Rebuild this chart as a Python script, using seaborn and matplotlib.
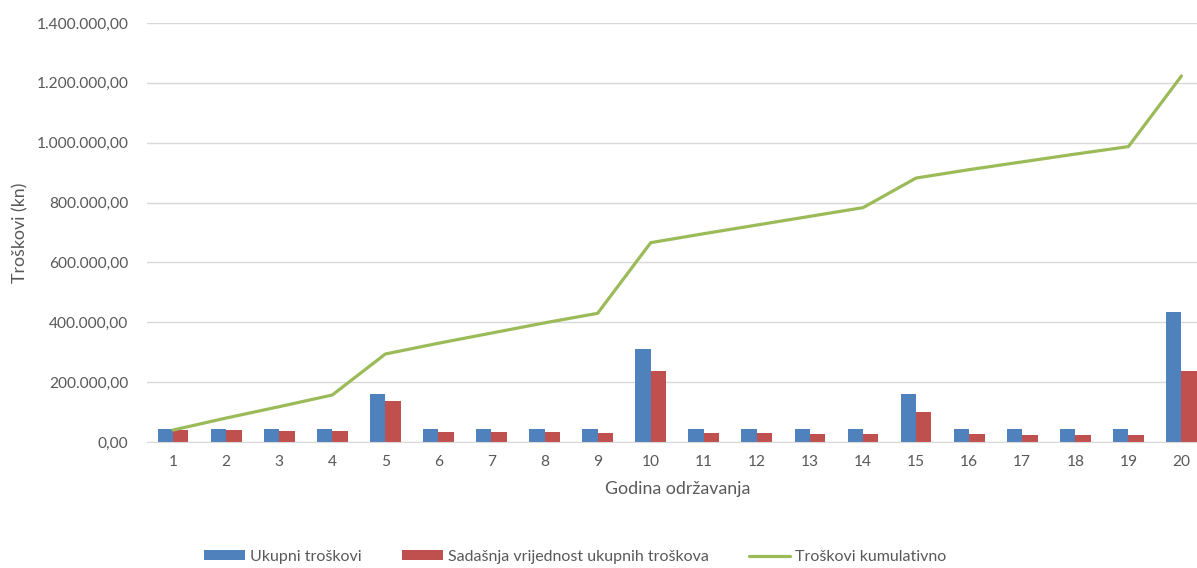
import pandas as pd
import matplotlib.pyplot as plt
import seaborn as sns
from matplotlib.ticker import FuncFormatter

# Godine održavanja
godine = list(range(1, 21))

# Ukupni troškovi (kn)
ukupni = [45000, 45000, 45000, 45000, 162000, 45000, 45000, 45000, 45000, 311000,
          45000, 45000, 45000, 45000, 162000, 45000, 45000, 45000, 45000, 434000]

# Sadašnja vrijednost ukupnih troškova (kn)
sadasnja = [40000, 39000, 38000, 37000, 137000, 34000, 33000, 32000, 31000, 236000,
            30000, 29000, 28000, 27000, 100000, 26000, 25000, 25000, 24000, 236000]

# Troškovi kumulativno (kn)
kumulativno = [40000, 80000, 118000, 157000, 294000, 330000, 364000, 398000, 430000, 666000,
               696000, 725000, 754000, 783000, 882000, 910000, 936000, 962000, 987000, 1223000]

serija_bar = ['Ukupni troškovi', 'Sadašnja vrijednost ukupnih troškova']

df_bar = pd.DataFrame({
    'Godina': godine * 2,
    'Iznos': ukupni + sadasnja,
    'Serija': [serija_bar[0]] * 20 + [serija_bar[1]] * 20,
})
df_line = pd.DataFrame({'pos': range(20), 'Kumulativno': kumulativno})

sns.set_style('white')
plt.rcParams['font.family'] = ['Lato', 'DejaVu Sans']
tekst = '#595959'

fig = plt.figure(figsize=(11.97, 5.68), dpi=100)
ax = fig.add_axes([146.5 / 1197, 126 / 568, (1208 - 146.5) / 1197, 419 / 568])

sns.barplot(data=df_bar, x='Godina', y='Iznos', hue='Serija',
            palette=['#4F81BD', '#C0504D'], width=0.58, saturation=1,
            linewidth=0, ax=ax, legend=True)
sns.lineplot(data=df_line, x='pos', y='Kumulativno', color='#9BBB59',
             linewidth=2.3, ax=ax, label='Troškovi kumulativno')

ax.set_xlim(-0.5, 19.5)
ax.set_ylim(0, 1400000)
ax.set_yticks(range(0, 1400001, 200000))
ax.yaxis.set_major_formatter(FuncFormatter(
    lambda v, p: f'{v:,.2f}'.replace(',', 'X').replace('.', ',').replace('X', '.')))
ax.grid(axis='y', color='#D9D9D9', linewidth=1)
ax.set_axisbelow(True)
for s in ['top', 'right', 'left']:
    ax.spines[s].set_visible(False)
ax.spines['bottom'].set_color('#D9D9D9')
ax.tick_params(axis='both', length=0, labelsize=11.2, colors=tekst)
ax.tick_params(axis='y', pad=13)
ax.tick_params(axis='x', pad=9)

ax.set_xlabel('Godina održavanja', fontsize=12.8, color=tekst, labelpad=9)
ax.set_ylabel('Troškovi (kn)', fontsize=12.8, color=tekst, labelpad=6)

handles, labels = ax.get_legend_handles_labels()
ax.get_legend().remove()
fig.legend(handles, labels, loc='center', bbox_to_anchor=(575 / 1197, 1 - 557 / 568),
           ncol=3, frameon=False, fontsize=11.5, labelcolor=tekst,
           handlelength=2.6, handleheight=0.6, handletextpad=0.3, columnspacing=2.5)

fig.savefig('out.png', dpi=100)
